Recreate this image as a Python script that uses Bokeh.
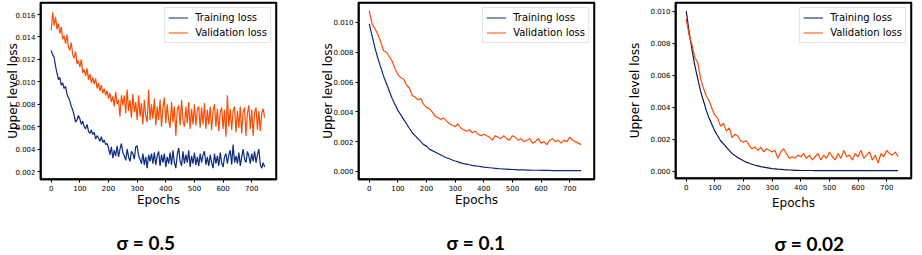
from bokeh.plotting import figure
from bokeh.layouts import row
from bokeh.models import Range1d, FixedTicker, PrintfTickFormatter, Title
from bokeh.embed import file_html
from bokeh.resources import INLINE

# ---------------- data ----------------
epochs_a = list(range(0, 750, 5))    # panel sigma = 0.5 (sampled every 5 epochs)
epochs_b = list(range(0, 750, 10))   # panels sigma = 0.1 / 0.02 (every 10 epochs)

train_05 = [
    0.0128, 0.0124, 0.0122, 0.0114, 0.0108, 0.0102, 0.0104, 0.0097, 0.0099, 0.0094,
    0.0096, 0.0089, 0.0086, 0.0083, 0.0078, 0.0075, 0.0070, 0.0064, 0.0066, 0.0070,
    0.0067, 0.0062, 0.0065, 0.0060, 0.0058, 0.0062, 0.0056, 0.0054, 0.0057, 0.0053,
    0.0055, 0.0049, 0.0052, 0.0050, 0.0047, 0.0051, 0.0046, 0.0048, 0.0044, 0.0045,
    0.0041, 0.0035, 0.0042, 0.0032, 0.0039, 0.0034, 0.0043, 0.0033, 0.0040, 0.0045,
    0.0037, 0.0034, 0.0030, 0.0040, 0.0033, 0.0029, 0.0038, 0.0036, 0.0031, 0.0042,
    0.0043, 0.0034, 0.0031, 0.0027, 0.0036, 0.0026, 0.0033, 0.0023, 0.0035, 0.0029,
    0.0036, 0.0027, 0.0037, 0.0026, 0.0034, 0.0038, 0.0025, 0.0035, 0.0028, 0.0036,
    0.0024, 0.0033, 0.0027, 0.0037, 0.0026, 0.0039, 0.0028, 0.0023, 0.0035, 0.0041,
    0.0029, 0.0025, 0.0038, 0.0027, 0.0035, 0.0028, 0.0039, 0.0024, 0.0034, 0.0027,
    0.0037, 0.0026, 0.0033, 0.0025, 0.0036, 0.0028, 0.0035, 0.0038, 0.0026, 0.0033,
    0.0025, 0.0035, 0.0028, 0.0023, 0.0036, 0.0027, 0.0034, 0.0025, 0.0037, 0.0028,
    0.0024, 0.0033, 0.0036, 0.0027, 0.0035, 0.0039, 0.0026, 0.0044, 0.0028, 0.0034,
    0.0027, 0.0037, 0.0025, 0.0033, 0.0040, 0.0031, 0.0028, 0.0038, 0.0034, 0.0027,
    0.0036, 0.0029, 0.0038, 0.0028, 0.0035, 0.0040, 0.0026, 0.0023, 0.0028, 0.0024,
]
val_05 = [
    0.0146, 0.0162, 0.0150, 0.0158, 0.0147, 0.0152, 0.0143, 0.0149, 0.0138, 0.0141,
    0.0134, 0.0142, 0.0131, 0.0128, 0.0135, 0.0124, 0.0121, 0.0127, 0.0116, 0.0119,
    0.0113, 0.0120, 0.0108, 0.0111, 0.0105, 0.0112, 0.0102, 0.0107, 0.0099, 0.0104,
    0.0098, 0.0103, 0.0094, 0.0099, 0.0092, 0.0097, 0.0090, 0.0094, 0.0088, 0.0092,
    0.0085, 0.0090, 0.0082, 0.0087, 0.0078, 0.0091, 0.0080, 0.0084, 0.0069, 0.0088,
    0.0079, 0.0088, 0.0072, 0.0093, 0.0074, 0.0084, 0.0068, 0.0089, 0.0073, 0.0082,
    0.0066, 0.0088, 0.0069, 0.0081, 0.0062, 0.0084, 0.0070, 0.0064, 0.0093, 0.0066,
    0.0080, 0.0067, 0.0085, 0.0061, 0.0078, 0.0066, 0.0084, 0.0060, 0.0077, 0.0086,
    0.0063, 0.0080, 0.0066, 0.0059, 0.0082, 0.0064, 0.0078, 0.0052, 0.0075, 0.0079,
    0.0061, 0.0084, 0.0065, 0.0060, 0.0078, 0.0063, 0.0082, 0.0058, 0.0076, 0.0062,
    0.0080, 0.0061, 0.0075, 0.0078, 0.0059, 0.0077, 0.0062, 0.0081, 0.0058, 0.0075,
    0.0062, 0.0078, 0.0057, 0.0074, 0.0080, 0.0060, 0.0076, 0.0056, 0.0073, 0.0077,
    0.0058, 0.0075, 0.0051, 0.0088, 0.0060, 0.0076, 0.0057, 0.0074, 0.0078, 0.0055,
    0.0074, 0.0059, 0.0078, 0.0054, 0.0073, 0.0077, 0.0052, 0.0072, 0.0079, 0.0058,
    0.0075, 0.0052, 0.0073, 0.0077, 0.0057, 0.0074, 0.0056, 0.0072, 0.0076, 0.0068,
]

train_01 = [
    0.0099, 0.0091, 0.0083, 0.0076, 0.0070, 0.0064, 0.0059, 0.0054, 0.0049, 0.0045,
    0.0041, 0.0038, 0.0035, 0.0032, 0.0029, 0.0026, 0.0024, 0.0022, 0.0020, 0.0018,
    0.0017, 0.0015, 0.0014, 0.0013, 0.0012, 0.0011, 0.0010, 0.00092, 0.00085, 0.00077,
    0.00070, 0.00064, 0.00058, 0.00053, 0.00049, 0.00045, 0.00041, 0.00038, 0.00035, 0.00032,
    0.00029, 0.00027, 0.00025, 0.00023, 0.00021, 0.00019, 0.00018, 0.00016, 0.00015, 0.00014,
    0.00013, 0.00012, 0.00011, 0.00010, 0.00010, 0.00009, 0.00009, 0.00008, 0.00008, 0.00008,
    0.00007, 0.00007, 0.00007, 0.00007, 0.00006, 0.00006, 0.00006, 0.00006, 0.00006, 0.00006,
    0.00006, 0.00006, 0.00006, 0.00006, 0.00006,
]
val_01 = [
    0.0108, 0.0099, 0.0096, 0.0092, 0.0087, 0.0081, 0.0080, 0.0077, 0.0074, 0.0069,
    0.0065, 0.0063, 0.0062, 0.0058, 0.0056, 0.0051, 0.0050, 0.0048, 0.0049, 0.0045,
    0.0043, 0.0042, 0.0040, 0.0037, 0.0036, 0.0035, 0.0036, 0.0034, 0.0032, 0.0031,
    0.0030, 0.0032, 0.0029, 0.0028, 0.0027, 0.0028, 0.0026, 0.0027, 0.0025, 0.0024,
    0.0025, 0.0024, 0.0023, 0.0021, 0.0024, 0.0023, 0.0022, 0.0024, 0.0022, 0.0021,
    0.0024, 0.0023, 0.0021, 0.0022, 0.0020, 0.0021, 0.0022, 0.0019, 0.0020, 0.0022,
    0.0019, 0.0020, 0.0018, 0.0021, 0.0022, 0.0020, 0.0021, 0.0019, 0.0021, 0.0020,
    0.0023, 0.0021, 0.0020, 0.0019, 0.0018,
]

train_002 = [
    0.0100, 0.0087, 0.0076, 0.0066, 0.0058, 0.0050, 0.0044, 0.0038, 0.0033, 0.0029,
    0.0025, 0.0022, 0.0019, 0.0017, 0.0015, 0.0013, 0.0011, 0.00097, 0.00085, 0.00074,
    0.00065, 0.00056, 0.00049, 0.00043, 0.00037, 0.00033, 0.00028, 0.00025, 0.00022, 0.00019,
    0.00016, 0.00014, 0.00012, 0.00011, 0.00009, 0.00008, 0.00007, 0.00006, 0.00005, 0.00005,
    0.00004, 0.00004, 0.00004, 0.00004, 0.00004, 0.00003, 0.00003, 0.00003, 0.00003, 0.00003,
    0.00003, 0.00003, 0.00003, 0.00003, 0.00003, 0.00003, 0.00003, 0.00003, 0.00003, 0.00003,
    0.00003, 0.00003, 0.00003, 0.00003, 0.00003, 0.00003, 0.00003, 0.00003, 0.00003, 0.00003,
    0.00003, 0.00003, 0.00003, 0.00003, 0.00003,
]
val_002 = [
    0.0095, 0.0085, 0.0079, 0.0071, 0.0068, 0.0058, 0.0052, 0.0047, 0.0044, 0.0039,
    0.0035, 0.0033, 0.0028, 0.0030, 0.0025, 0.0027, 0.0021, 0.0023, 0.0022, 0.0019,
    0.0018, 0.0019, 0.0016, 0.0014, 0.0015, 0.0013, 0.0015, 0.0012, 0.0014, 0.0013,
    0.0012, 0.0013, 0.0008, 0.0012, 0.0014, 0.0011, 0.0008, 0.0009, 0.0008, 0.0010,
    0.0009, 0.0011, 0.0008, 0.0010, 0.0007, 0.0009, 0.0011, 0.0007, 0.0010, 0.0008,
    0.0012, 0.0009, 0.0007, 0.0011, 0.0008, 0.0013, 0.0009, 0.0010, 0.0007, 0.0011,
    0.0009, 0.0013, 0.0008, 0.0010, 0.0012, 0.0007, 0.0010, 0.0005, 0.0011, 0.0009,
    0.0013, 0.0011, 0.0010, 0.0012, 0.0009,
]

x_ticks = [0, 100, 200, 300, 400, 500, 600, 700]
y_ticks_05 = [0.002, 0.004, 0.006, 0.008, 0.010, 0.012, 0.014, 0.016]
y_ticks_01 = [0.000, 0.002, 0.004, 0.006, 0.008, 0.010]
y_ticks_002 = [0.000, 0.002, 0.004, 0.006, 0.008, 0.010]

captions = ["\u03c3 = 0.5", "\u03c3 = 0.1", "\u03c3 = 0.02"]

TRAIN_COLOR = "#0b2a80"
VAL_COLOR = "#ff4a00"


def make_panel(tx, ty, vx, vy, yticks, yr, caption, left, right, top, frame_h,
               ylab_standoff, xlab_standoff, cap_offset, cap_standoff, train_color):
    xr = Range1d(-37.5, 786.5)
    yrng = Range1d(*yr)
    p = figure(width=None, height=None, frame_width=236, frame_height=frame_h,
               x_range=xr, y_range=yrng,
               output_backend="svg", toolbar_location=None,
               min_border_left=left, min_border_right=right,
               min_border_top=top, min_border_bottom=40)

    p.xgrid.visible = False
    p.ygrid.visible = False
    p.outline_line_color = "black"
    p.outline_line_width = 1.5
    p.outline_line_alpha = 1
    p.background_fill_color = "white"
    p.border_fill_color = "white"

    # black frame box around the plotting area, drawn from the range limits
    p.multi_line(
        xs=[[xr.start, xr.end, xr.end, xr.start, xr.start]],
        ys=[[yrng.start, yrng.start, yrng.end, yrng.end, yrng.start]],
        line_color="black", line_width=2.5,
    )

    p.line(tx, ty, color=train_color, line_width=1.2, legend_label="Training loss")
    p.line(vx, vy, color=VAL_COLOR, line_width=1.2, legend_label="Validation loss")

    for ax in (p.xaxis[0], p.yaxis[0]):
        ax.axis_line_color = "black"
        ax.axis_line_width = 1.5
        ax.major_tick_line_color = "black"
        ax.major_tick_line_width = 1
        ax.major_tick_out = 3
        ax.major_tick_in = 0
        ax.minor_tick_line_color = None
        ax.major_label_text_font = "DejaVu Sans"
        ax.major_label_text_font_size = "7px"
        ax.major_label_text_color = "black"
        ax.axis_label_text_font = "DejaVu Sans"
        ax.axis_label_text_font_size = "12px"
        ax.axis_label_text_font_style = "normal"
        ax.axis_label_text_color = "black"
        ax.major_label_standoff = 2

    p.xaxis.ticker = FixedTicker(ticks=x_ticks)
    p.yaxis.ticker = FixedTicker(ticks=yticks)
    p.yaxis.formatter = PrintfTickFormatter(format="%.3f")
    p.xaxis.axis_label = "Epochs"
    p.yaxis.axis_label = "Upper level loss"
    p.xaxis.axis_label_standoff = xlab_standoff
    p.yaxis.axis_label_standoff = ylab_standoff

    lg = p.legend[0]
    lg.location = "top_right"
    lg.margin = 5
    lg.padding = 3
    lg.spacing = 2
    lg.label_height = 13
    lg.glyph_height = 13
    lg.glyph_width = 20
    lg.label_standoff = 7
    lg.label_text_font = "DejaVu Sans"
    lg.label_text_font_size = "10px"
    lg.label_text_color = "black"
    lg.border_line_color = "#cccccc"
    lg.border_line_width = 1
    lg.background_fill_alpha = 0.85

    cap = Title(text=caption, align="left", text_font="Lato",
                text_font_size="19px", text_font_style="bold",
                text_color="black", standoff=cap_standoff, offset=cap_offset)
    p.add_layout(cap, "below")
    return p


p1 = make_panel(epochs_a, train_05, epochs_a, val_05, y_ticks_05, (0.00129, 0.01707),
                captions[0], 45, 19, 0, 177, -8, -1, 76, 38, TRAIN_COLOR)
p2 = make_panel(epochs_b, train_01, epochs_b, val_01, y_ticks_01, (-0.00054, 0.01134),
                captions[1], 63, 11, 0, 177, -5, -1, 88, 39, TRAIN_COLOR)
p3 = make_panel(epochs_b, train_002, epochs_b, val_002, y_ticks_002, (-0.00046, 0.01054),
                captions[2], 70, 6, 4, 176, 5, 3, 99, 34, "#081c5c")

layout = row(p1, p2, p3, spacing=0, margin=(-2, -11, -11, -5))

open("out.html", "w").write(file_html(layout, INLINE))
